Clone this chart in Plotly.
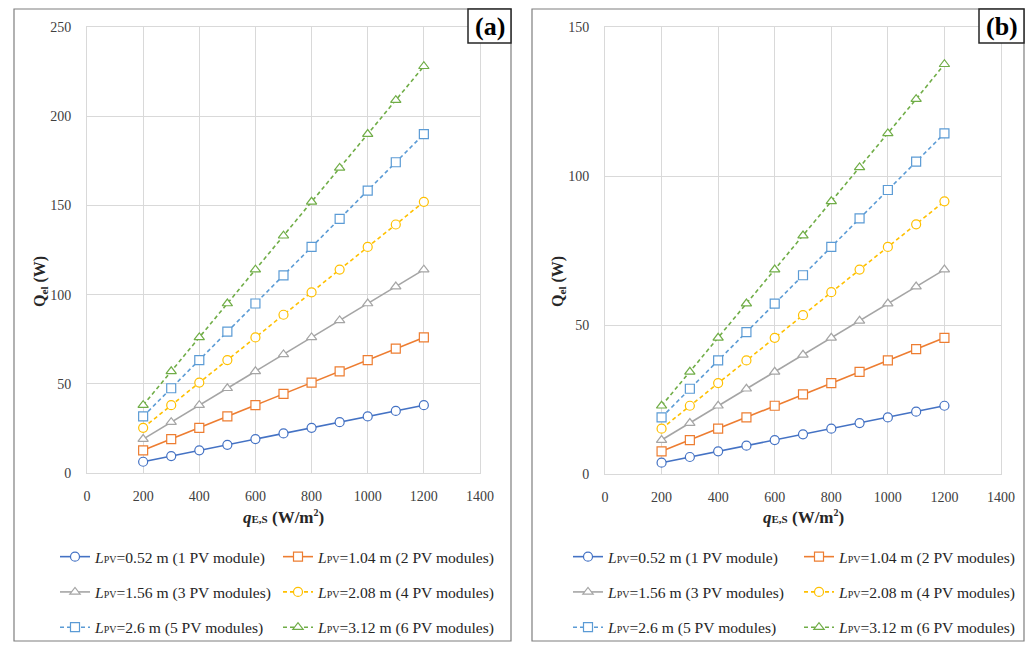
import plotly.graph_objects as go

# page body has an 8px margin: the figure is offset by (8, 8) in the window
OFF = 8
W, H = 1017, 634

q = [200, 300, 400, 500, 600, 700, 800, 900, 1000, 1100, 1200]

# Panel (a) values (W)
a1 = [6.3, 9.5, 12.7, 15.8, 19.0, 22.2, 25.3, 28.5, 31.7, 34.8, 38.0]
a2 = [12.7, 19.0, 25.3, 31.7, 38.0, 44.3, 50.7, 57.0, 63.3, 69.7, 76.0]
a3 = [19.0, 28.5, 38.0, 47.5, 57.0, 66.5, 76.0, 85.5, 95.0, 104.5, 114.0]
a4 = [25.3, 38.0, 50.7, 63.3, 76.0, 88.7, 101.3, 114.0, 126.7, 139.3, 152.0]
a5 = [31.7, 47.5, 63.3, 79.2, 95.0, 110.8, 126.7, 142.5, 158.3, 174.2, 190.0]
a6 = [38.0, 57.0, 76.0, 95.0, 114.0, 133.0, 152.0, 171.0, 190.0, 209.0, 228.0]

# Panel (b) values (W)
b1 = [3.8, 5.7, 7.6, 9.5, 11.4, 13.3, 15.2, 17.1, 19.0, 20.9, 22.9]
b2 = [7.6, 11.4, 15.2, 19.0, 22.9, 26.7, 30.5, 34.3, 38.1, 41.9, 45.7]
b3 = [11.4, 17.1, 22.9, 28.6, 34.3, 40.0, 45.7, 51.4, 57.2, 62.9, 68.6]
b4 = [15.2, 22.9, 30.5, 38.1, 45.7, 53.3, 61.0, 68.6, 76.2, 83.8, 91.5]
b5 = [19.0, 28.6, 38.1, 47.6, 57.2, 66.7, 76.2, 85.8, 95.3, 104.8, 114.3]
b6 = [22.9, 34.3, 45.7, 57.2, 68.6, 80.0, 91.5, 102.9, 114.3, 125.8, 137.5]

names = [
    "<i>L</i><span style='font-size:10px'>PV</span>=0.52 m (1 PV module)",
    "<i>L</i><span style='font-size:10px'>PV</span>=1.04 m (2 PV modules)",
    "<i>L</i><span style='font-size:10px'>PV</span>=1.56 m (3 PV modules)",
    "<i>L</i><span style='font-size:10px'>PV</span>=2.08 m (4 PV modules)",
    "<i>L</i><span style='font-size:10px'>PV</span>=2.6 m (5 PV modules)",
    "<i>L</i><span style='font-size:10px'>PV</span>=3.12 m (6 PV modules)",
]
colors = ["#4472C4", "#ED7D31", "#A5A5A5", "#FFC000", "#5B9BD5", "#70AD47"]
symbols = ["circle", "square", "triangle-up", "circle", "square", "triangle-up"]
dashes = ["solid", "solid", "solid", "4px,3px", "4px,3px", "4px,3px"]

FONT = "Liberation Serif"

fig = go.Figure()

series_a = [a1, a2, a3, a4, a5, a6]
series_b = [b1, b2, b3, b4, b5, b6]
leg_a = ["legend", "legend2", "legend", "legend2", "legend", "legend2"]
leg_b = ["legend3", "legend4", "legend3", "legend4", "legend3", "legend4"]

for i in range(6):
    fig.add_trace(go.Scatter(
        x=q, y=series_a[i], mode="lines+markers", name=names[i],
        line=dict(color=colors[i], width=1.6, dash=dashes[i]),
        marker=dict(symbol=symbols[i], size=9, color="white",
                    line=dict(color=colors[i], width=1.2)),
        xaxis="x", yaxis="y", legend=leg_a[i], legendgroup="a%d" % i))
for i in range(6):
    fig.add_trace(go.Scatter(
        x=q, y=series_b[i], mode="lines+markers", name=names[i],
        line=dict(color=colors[i], width=1.6, dash=dashes[i]),
        marker=dict(symbol=symbols[i], size=9, color="white",
                    line=dict(color=colors[i], width=1.2)),
        xaxis="x2", yaxis="y2", legend=leg_b[i], legendgroup="b%d" % i))

def px_x(v):
    return (v - OFF) / W

def px_y(v):
    return 1 - (v - OFF) / H

grid = "#D9D9D9"
axis_common = dict(showgrid=True, gridcolor=grid, gridwidth=1, zeroline=False,
                   showline=True, mirror=True, linecolor=grid, linewidth=1,
                   ticks="", automargin=False,
                   tickfont=dict(family=FONT, size=14, color="#404040"))

fig.update_layout(
    width=W, height=H,
    margin=dict(l=0, r=0, t=0, b=0, autoexpand=False),
    paper_bgcolor="white", plot_bgcolor="white",
    font=dict(family=FONT, color="#262626"),
    xaxis=dict(domain=[px_x(87), px_x(480)], range=[0, 1400], dtick=200,
               anchor="y", ticklabelstandoff=10, **axis_common),
    yaxis=dict(domain=[px_y(473), px_y(27)], range=[0, 250], dtick=50,
               anchor="x", ticklabelstandoff=12, **axis_common),
    xaxis2=dict(domain=[px_x(605), px_x(1001)], range=[0, 1400], dtick=200,
                anchor="y2", ticklabelstandoff=10, **axis_common),
    yaxis2=dict(domain=[px_y(474), px_y(27)], range=[0, 150], dtick=50,
                anchor="x2", ticklabelstandoff=12, **axis_common),
)

leg_common = dict(orientation="v", xanchor="left", yanchor="top",
                  bgcolor="rgba(0,0,0,0)", tracegroupgap=12,
                  font=dict(family=FONT, size=15.6, color="#262626"),
                  itemwidth=30)
fig.update_layout(
    legend=dict(x=px_x(55), y=px_y(540), **leg_common),
    legend2=dict(x=px_x(278), y=px_y(540), **leg_common),
    legend3=dict(x=px_x(568), y=px_y(540), **leg_common),
    legend4=dict(x=px_x(799), y=px_y(540), **leg_common),
)

TOP = 9
BOT = 641
RIGHT = 1024
shapes = []
for (x0, x1) in [(14, 511), (532, RIGHT)]:
    shapes.append(dict(type="rect", xref="paper", yref="paper",
                       x0=px_x(x0), x1=px_x(x1), y0=px_y(BOT), y1=px_y(TOP),
                       line=dict(color="#7F7F7F", width=1.2)))
for (x0, x1) in [(468, 511), (979, RIGHT)]:
    shapes.append(dict(type="rect", xref="paper", yref="paper",
                       x0=px_x(x0), x1=px_x(x1), y0=px_y(43), y1=px_y(TOP),
                       line=dict(color="#262626", width=1.5), fillcolor="white"))
fig.update_layout(shapes=shapes)

ann = []
for cx, lab in [(489.5, "(a)"), (1001.5, "(b)")]:
    ann.append(dict(x=px_x(cx), y=px_y(26), xref="paper", yref="paper",
                    text="<b>%s</b>" % lab, showarrow=False,
                    font=dict(family=FONT, size=26, color="#000000"),
                    xanchor="center", yanchor="middle"))
xt = ("<b><i>q</i><span style='font-size:11px'>E,S</span> (W/m"
      "<sup><span style='font-size:10px'>2</span></sup>)</b>")
for cx in [283.5, 803]:
    ann.append(dict(x=px_x(cx), y=px_y(517), xref="paper", yref="paper",
                    text=xt, showarrow=False,
                    font=dict(family=FONT, size=17, color="#262626"),
                    xanchor="center", yanchor="middle"))
yt = "<b>Q<sub>el</sub> (W)</b>"
for cx, cy in [(40, 282), (558, 282)]:
    ann.append(dict(x=px_x(cx), y=px_y(cy), xref="paper", yref="paper",
                    text=yt, showarrow=False, textangle=-90,
                    font=dict(family=FONT, size=16, color="#262626"),
                    xanchor="center", yanchor="middle"))
fig.update_layout(annotations=ann)

fig.write_html("out.html")
